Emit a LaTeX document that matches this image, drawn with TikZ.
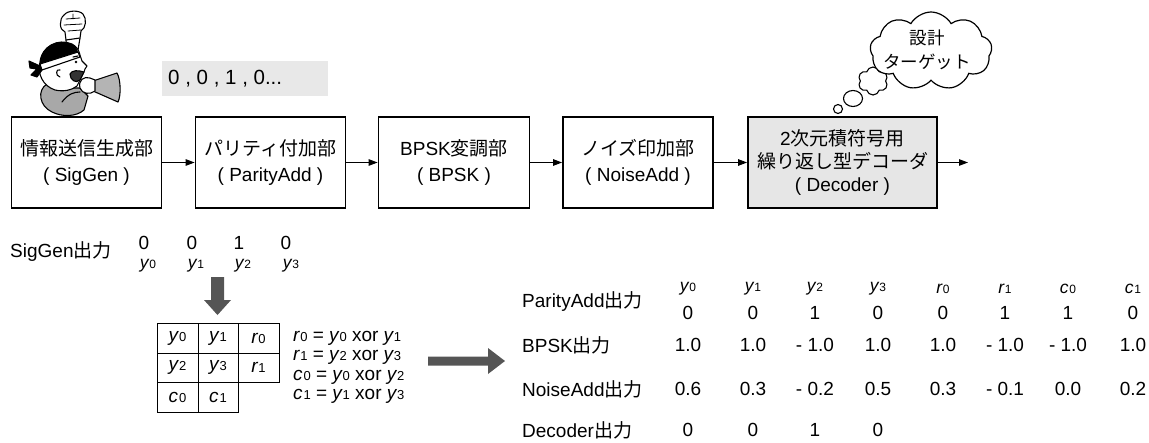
\documentclass[tikz,border=0pt]{standalone}
\usepackage{fontspec}
\setmainfont{Liberation Sans}
\newfontfamily\jp{Noto Sans CJK JP}
\usetikzlibrary{arrows.meta,shapes.symbols,shapes.geometric}

\definecolor{boxgray}{HTML}{E6E6E6}
\definecolor{seqgray}{HTML}{E8E8E8}
\definecolor{arrowgray}{HTML}{555555}
\definecolor{shirtgray}{HTML}{A8A8A8}
\definecolor{megagray}{HTML}{B4B4B4}

% italic symbol with small upright index, e.g. y0
\newcommand\subv[2]{{\fontsize{19}{19}\selectfont\itshape #1}\kern0.8pt{\fontsize{13}{13}\selectfont #2}}
\newcommand\subvsm[2]{{\fontsize{17.5}{17.5}\selectfont\itshape #1}\kern0.8pt{\fontsize{12}{12}\selectfont #2}}

\begin{document}
\begin{tikzpicture}[x=1pt,y=-1pt,
  txt/.style={font=\fontsize{19}{23}\selectfont, inner sep=0pt},
  blk/.style={draw, line width=1.8pt, minimum height=91pt, align=center,
              inner sep=0pt, font=\fontsize{19}{26}\selectfont},
  arr/.style={line width=1.1pt, -{Triangle[length=9pt,width=6.5pt]}},
  cartoon/.style={line width=1.1pt, line join=round, line cap=round},
  bigarrow/.style={fill=arrowgray, draw=none},
  bubble/.style={draw, fill=white, line width=1.1pt, inner sep=0pt},
]
\useasboundingbox (0,0) rectangle (1149,442);

% ---------- cheering figure with megaphone ----------
% shirt
\draw[cartoon, fill=shirtgray] (47,84) .. controls (37,90) and (39,106) .. (52,112)
  .. controls (62,117) and (76,117) .. (84,110) -- (88,96) -- (80,88) -- (74,88) -- cycle;
\draw[cartoon] (62,102) .. controls (68,94) and (74,92) .. (80,92);
% raised fist
\draw[cartoon] (66,40) -- (67,50) (80,38) -- (78,50);
\draw[cartoon, fill=white] (66,40) -- (65,32) .. controls (59,30) and (59,19) .. (64,15)
  .. controls (68,10) and (79,10) .. (83,14) .. controls (87,19) and (86,28) .. (81,31) -- (80,38) -- cycle;
\draw[cartoon, line width=0.8pt] (66,19) -- (80,18) (64,25) -- (82,24) (68,31) -- (81,30) (73,14) -- (73,19);
% head
\draw[cartoon, fill=white] (40,62) .. controls (37,74) and (43,86) .. (55,90)
  .. controls (64,92) and (72,90) .. (77,86) -- (80,80) -- (84,72) -- (85,69) -- (87,66)
  -- (82,61) -- (80,55) .. controls (79,50) and (76,46) .. (72,44)
  .. controls (58,38) and (42,46) .. (40,62) -- cycle;
% hair
\fill (40,63) .. controls (40,46) and (58,38) .. (72,44) .. controls (76,46) and (78,50) .. (78,53)
  -- (60,58) -- (41,67) -- cycle;
% headband and its knot
\draw[cartoon, fill=white] (40,64) -- (78,52) -- (80,57) -- (42,70) -- cycle;
\draw[cartoon, fill=black] (40,66) -- (29,61) -- (30,68) -- (37,69) -- (31,75) -- (37,77) -- (42,70) -- cycle;
% face
\draw[cartoon, fill=black!80] (70,74) .. controls (70,80) and (76,84) .. (80,80) -- (84,72)
  .. controls (78,70) and (72,70) .. (70,74) -- cycle;
\fill (76,62) circle (1.4);
\draw[cartoon] (73,57) -- (78,56);
\draw[cartoon] (60,70) .. controls (56,68) and (55,76) .. (60,77);
% megaphone and hand
\draw[cartoon, fill=megagray] (93,81) -- (117,73) .. controls (121,80) and (121,96) .. (118,102) -- (93,91) -- cycle;
\draw[cartoon, fill=white] (80,88) .. controls (78,80) and (84,76) .. (90,78) -- (95,80) -- (95,91)
  .. controls (90,95) and (82,94) .. (80,88) -- cycle;

% ---------- bit sequence ----------
\node[fill=seqgray, minimum width=166pt, minimum height=35pt, inner sep=0pt, anchor=north west] (seq) at (162,61) {};
\node[inner sep=0pt, font=\fontsize{20.5}{24}\selectfont, anchor=west] (seqtext) at (168,79) {0 , 0 , 1 , 0...};

% ---------- processing chain ----------
\node[blk, minimum width=150pt] (sig) at (86.5,162.5) {{\jp 情報送信生成部}\\( SigGen )};
\node[blk, minimum width=150pt] (par) at (270.5,162.5) {{\jp パリティ付加部}\\( ParityAdd )};
\node[blk, minimum width=151pt] (bpsk) at (454,162.5) {BPSK{\jp 変調部}\\( BPSK )};
\node[blk, minimum width=150pt] (noise) at (638,162.5) {{\jp ノイズ印加部}\\( NoiseAdd )};
\node[blk, minimum width=189pt, fill=boxgray, font=\fontsize{19}{23}\selectfont] (dec) at (842.5,162.5)
  {2{\jp 次元積符号用}\\{\jp 繰り返し型デコーダ}\\( Decoder )};
\coordinate (out) at (968,162.5);
\draw[arr] (sig) -- (par);
\draw[arr] (par) -- (bpsk);
\draw[arr] (bpsk) -- (noise);
\draw[arr] (noise) -- (dec);
\draw[arr] (dec) -- (out);

% ---------- thought bubble ----------
\node[bubble, circle, minimum size=9pt] (puffC) at (838,109) {};
\node[bubble, ellipse, minimum width=19pt, minimum height=16pt] (puffB) at (853,98.5) {};
\node[bubble, cloud, cloud puffs=6, cloud ignores aspect, minimum width=30pt, minimum height=28pt] (puffA) at (873,81) {};
\node[bubble, cloud, cloud puffs=9, cloud puff arc=120, cloud ignores aspect, line width=1.2pt, minimum width=122pt, minimum height=78pt] (thought) at (931,51) {};
\node[align=center, inner sep=0pt, font=\fontsize{17.5}{24}\selectfont] (target) at (927,50) {{\jp 設計}\\{\jp ターゲット}};

% ---------- SigGen output ----------
\node[txt, anchor=west] (siglabel) at (10,252) {SigGen{\jp 出力}};
\foreach \vx/\lx/\v/\d [count=\i] in {144/148/0/0, 192/196/0/1, 239/243/1/2, 286/291/0/3} {
  \node[txt] (sv\i) at (\vx,243) {\v};
  \node[inner sep=0pt] (sl\i) at (\lx,266) {\subvsm{y}{\d}};
}

% down arrow
\fill[bigarrow] (211,277) -- (224,277) -- (224,300) -- (231,300) -- (217.5,315) -- (204,300) -- (211,300) -- cycle;

% ---------- product-code grid ----------
\draw[line width=1pt] (157,323) rectangle (279,382);
\draw[line width=1pt] (157,382) rectangle (238,412);
\draw[line width=1pt] (157,353) -- (279,353);
\draw[line width=1pt] (198,323) -- (198,412);
\draw[line width=1pt] (238,323) -- (238,382);
\node[inner sep=0pt] (g11) at (177.5,338) {\subv{y}{0}};
\node[inner sep=0pt] (g12) at (218,338) {\subv{y}{1}};
\node[inner sep=0pt] (g13) at (258.5,338) {\subv{r}{0}};
\node[inner sep=0pt] (g21) at (177.5,367.5) {\subv{y}{2}};
\node[inner sep=0pt] (g22) at (218,367.5) {\subv{y}{3}};
\node[inner sep=0pt] (g23) at (258.5,367.5) {\subv{r}{1}};
\node[inner sep=0pt] (g31) at (177.5,397) {\subv{c}{0}};
\node[inner sep=0pt] (g32) at (218,397) {\subv{c}{1}};

% parity equations
\node[txt, anchor=west] (eq1) at (293,338) {\subv{r}{0} = \subv{y}{0} xor \subv{y}{1}};
\node[txt, anchor=west] (eq2) at (293,357.5) {\subv{r}{1} = \subv{y}{2} xor \subv{y}{3}};
\node[txt, anchor=west] (eq3) at (293,377) {\subv{c}{0} = \subv{y}{0} xor \subv{y}{2}};
\node[txt, anchor=west] (eq4) at (293,396.5) {\subv{c}{1} = \subv{y}{1} xor \subv{y}{3}};

% right arrow
\fill[bigarrow] (428,356.5) -- (488,356.5) -- (488,348) -- (505,361) -- (488,374) -- (488,365.5) -- (428,365.5) -- cycle;

% ---------- output table ----------
\node[txt, anchor=west] (rpar) at (522,302) {ParityAdd{\jp 出力}};
\node[txt, anchor=west] (rbpsk) at (522,345) {BPSK{\jp 出力}};
\node[txt, anchor=west] (rnoise) at (522,389) {NoiseAdd{\jp 出力}};
\node[txt, anchor=west] (rdec) at (522,430) {Decoder{\jp 出力}};
\foreach \x/\s/\d/\p/\b/\n [count=\i] in {
  688/y/0/0/1.0/0.6, 753/y/1/0/1.0/0.3, 815/y/2/1/- 1.0/- 0.2, 878/y/3/0/1.0/0.5,
  943/r/0/0/1.0/0.3, 1005/r/1/1/- 1.0/- 0.1, 1068/c/0/1/- 1.0/0.0, 1133/c/1/0/1.0/0.2} {
  \node[inner sep=0pt] (ts\i) at (\x,289) {\subvsm{\s}{\d}};
  \node[txt] (tp\i) at (\x,313) {\p};
  \node[txt] (tb\i) at (\x,345) {\b};
  \node[txt] (tn\i) at (\x,389) {\n};
}
\foreach \x/\v [count=\i] in {688/0, 753/0, 815/1, 878/0} {
  \node[txt] (td\i) at (\x,430) {\v};
}
\end{tikzpicture}
\end{document}
